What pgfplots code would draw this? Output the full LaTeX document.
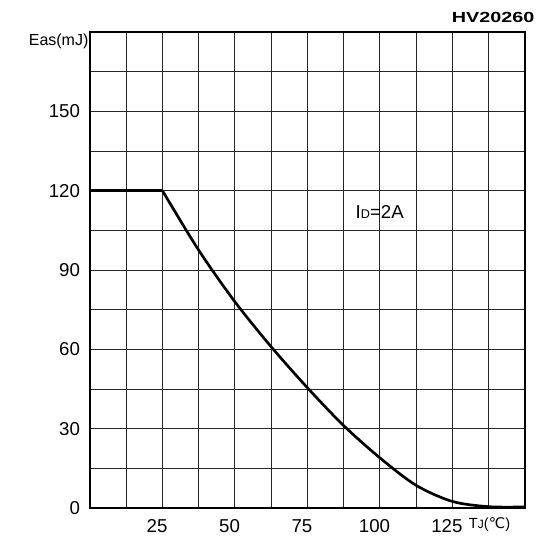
\documentclass[border=0pt]{standalone}
\usepackage{pgfplots}
\pgfplotsset{compat=1.18}
\usepackage{fontspec}
\setmainfont{Liberation Sans}
\newfontfamily\symfont{DejaVu Sans}
\newfontfamily\widefont[FakeStretch=1.35]{Liberation Sans}

\begin{document}
\begin{tikzpicture}
  \begin{axis}[
      name=main,
      scale only axis,
      width=326pt,
      height=357pt,
      xmin=0, xmax=150,
      ymin=0, ymax=180,
      xtick={0,12.5,...,150},
      xticklabels={,,25,,50,,75,,100,,125,,},
      ytick={0,15,...,180},
      yticklabels={0,,30,,60,,90,,120,,150,,},
      major tick length=0pt,
      grid=major,
      major grid style={black!85, line width=0.7pt},
      axis line style={black, line width=1.6pt},
      tick label style={font=\fontsize{14}{16}\selectfont},
      /pgf/number format/assume math mode=true,
      xticklabel style={yshift=-5pt, xshift=-4pt},
      yticklabel style={xshift=-4pt},
      clip=false,
    ]
    % flat part
    \addplot[black, line width=2pt] coordinates {(0,120) (25,120)};
    % derating curve
    \addplot[black, line width=2pt, smooth] coordinates {
      (25,120) (37.5,97.5) (50,78) (62.5,61) (75,45.5)
      (87.5,31.2) (100,19) (112.5,8.6) (125,2.5) (137.5,0.5) (150,0.4)
    };
    \node[font=\fontsize{14}{16}\selectfont] at (axis cs:100,112)
      {I{\fontsize{9.5}{10}\selectfont D}=2A};
  \end{axis}
  % outer labels
  \node[anchor=south east, font=\widefont\bfseries\fontsize{11}{12}\selectfont, inner sep=0pt]
    at ([xshift=7.5pt,yshift=6.5pt]main.north east) {HV20260};
  \node[anchor=east, font=\fontsize{12}{14}\selectfont, inner sep=0pt]
    at ([xshift=-1pt,yshift=-7pt]main.north west) {Eas(mJ)};
  \node[anchor=west, font=\fontsize{11}{13}\selectfont, inner sep=0pt]
    at ([xshift=-42pt,yshift=-12.5pt]main.south east) {T{\fontsize{9}{10}\selectfont J}({\symfont ℃})};
  \path ([xshift=-67.5pt,yshift=-23.25pt]main.south west)
    rectangle ([xshift=9.75pt,yshift=24pt]main.north east);
\end{tikzpicture}
\end{document}
